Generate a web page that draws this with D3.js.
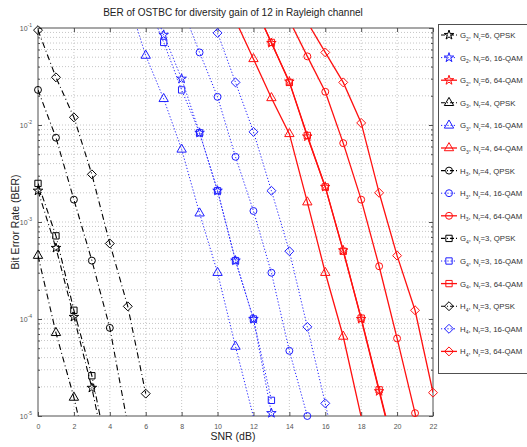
<!DOCTYPE html>
<html>
<head>
<meta charset="utf-8">
<script src="https://cdn.jsdelivr.net/npm/d3@7"></script>
<style>
  body { margin: 0; background: #fff; }
  svg { display: block; font-family: "Liberation Sans", Arial, sans-serif; }
</style>
</head>
<body>
<svg id="chart" width="527" height="447"></svg>
<script>
// axis ticks
const xTicks = [0, 2, 4, 6, 8, 10, 12, 14, 16, 18, 20, 22];
const yTicks = [1e-1, 1e-2, 1e-3, 1e-4, 1e-5];

// QPSK curves
const snrG2Qpsk = [0, 1, 2, 3, 4];
const berG2Qpsk = [2.1e-3, 5.4e-4, 1.05e-4, 1.95e-5, 2.5e-6];
const snrG3Qpsk = [0, 1, 2, 3];
const berG3Qpsk = [4.5e-4, 7.2e-5, 1.55e-5, 2.5e-6];
const snrH3Qpsk = [0, 1, 2, 3, 4, 5];
const berH3Qpsk = [2.3e-2, 7.4e-3, 1.7e-3, 4.0e-4, 8.1e-5, 8.1e-6];
const snrG4Qpsk = [0, 1, 2, 3, 4];
const berG4Qpsk = [2.5e-3, 7.2e-4, 1.23e-4, 2.6e-5, 3.2e-6];
const snrH4Qpsk = [0, 1, 2, 3, 4, 5, 6];
const berH4Qpsk = [9.5e-2, 3.1e-2, 1.2e-2, 3.1e-3, 6.0e-4, 1.35e-4, 1.7e-5];

// 16-QAM curves
const snrG2Q16 = [6, 7, 8, 9, 10, 11, 12, 13];
const berG2Q16 = [2.5e-1, 8.5e-2, 3.0e-2, 8.3e-3, 2.1e-3, 4.0e-4, 1.0e-4, 1.07e-5];
const snrG3Q16 = [5, 6, 7, 8, 9, 10, 11, 12];
const berG3Q16 = [2.0e-1, 5.2e-2, 1.86e-2, 5.6e-3, 1.23e-3, 3.0e-4, 5.2e-5, 9.8e-6];
const snrH3Q16 = [8, 9, 10, 11, 12, 13, 14, 15];
const berH3Q16 = [1.66e-1, 5.6e-2, 1.95e-2, 4.7e-3, 1.3e-3, 3.0e-4, 4.7e-5, 1.0e-5];
const snrG4Q16 = [6, 7, 8, 9, 10, 11, 12, 13];
const berG4Q16 = [2.0e-1, 7.1e-2, 2.3e-2, 8.3e-3, 2.1e-3, 4.0e-4, 1.0e-4, 1.45e-5];
const snrH4Q16 = [9, 10, 11, 12, 13, 14, 15, 16, 17];
const berH4Q16 = [2.8e-1, 8.9e-2, 2.75e-2, 8.5e-3, 2.1e-3, 5.0e-4, 8.3e-5, 1.35e-5, 2.0e-6];

// 64-QAM curves
const snrG2Q64 = [12, 13, 14, 15, 16, 17, 18, 19, 20];
const berG2Q64 = [1.8e-1, 7.0e-2, 2.8e-2, 7.6e-3, 2.3e-3, 5.1e-4, 1.0e-4, 1.8e-5, 3.2e-6];
const snrG3Q64 = [11, 12, 13, 14, 15, 16, 17, 18];
const berG3Q64 = [1.2e-1, 4.8e-2, 1.9e-2, 8.1e-3, 1.6e-3, 3.0e-4, 6.6e-5, 9.8e-6];
const snrH3Q64 = [14, 15, 16, 17, 18, 19, 20, 21, 22];
const berH3Q64 = [1.2e-1, 5.1e-2, 2.2e-2, 6.5e-3, 1.7e-3, 3.5e-4, 6.3e-5, 1.07e-5, 1.6e-6];
const snrG4Q64 = [12, 13, 14, 15, 16, 17, 18, 19, 20];
const berG4Q64 = [1.78e-1, 7.1e-2, 2.75e-2, 7.8e-3, 2.3e-3, 5.0e-4, 1.02e-4, 1.86e-5, 3.4e-6];
const snrH4Q64 = [15, 16, 17, 18, 19, 20, 21, 22];
const berH4Q64 = [1.15e-1, 5.6e-2, 2.75e-2, 1.05e-2, 2.0e-3, 4.5e-4, 1.23e-4, 1.74e-5];

// legend texts: code letter, code index, receive antennas, modulation
const codeNames = ["G", "G", "G", "G", "G", "G", "H", "H", "H", "G", "G", "G", "H", "H", "H"];
const codeIdx = ["2", "2", "2", "3", "3", "3", "3", "3", "3", "4", "4", "4", "4", "4", "4"];
const rxAnt = ["6", "6", "6", "4", "4", "4", "4", "4", "4", "3", "3", "3", "3", "3", "3"];
const modNames = ["QPSK", "16-QAM", "64-QAM", "QPSK", "16-QAM", "64-QAM", "QPSK", "16-QAM", "64-QAM",
                  "QPSK", "16-QAM", "64-QAM", "QPSK", "16-QAM", "64-QAM"];

const snrList = [snrG2Qpsk, snrG2Q16, snrG2Q64, snrG3Qpsk, snrG3Q16, snrG3Q64, snrH3Qpsk, snrH3Q16, snrH3Q64,
                 snrG4Qpsk, snrG4Q16, snrG4Q64, snrH4Qpsk, snrH4Q16, snrH4Q64];
const berList = [berG2Qpsk, berG2Q16, berG2Q64, berG3Qpsk, berG3Q16, berG3Q64, berH3Qpsk, berH3Q16, berH3Q64,
                 berG4Qpsk, berG4Q16, berG4Q64, berH4Qpsk, berH4Q16, berH4Q64];

// matlab-like wide diamond
const symbolWideDiamond = {
  draw(ctx, size) {
    const r = Math.sqrt(size / 2);
    ctx.moveTo(0, -r); ctx.lineTo(r, 0); ctx.lineTo(0, r); ctx.lineTo(-r, 0); ctx.closePath();
  }
};

// styles per modulation and per code
const modStyle = {
  "QPSK":   {color: "#000000", dash: "6,3,1,3", width: 1.1},
  "16-QAM": {color: "#1f1fff", dash: "1.2,2", width: 1},
  "64-QAM": {color: "#ff1010", dash: null, width: 1.3}
};
const codeSymbol = {"G2": d3.symbolStar, "G3": d3.symbolTriangle, "H3": d3.symbolCircle,
                    "G4": d3.symbolSquare, "H4": symbolWideDiamond};
const symSize = {"G2": 28, "G3": 38, "H3": 38, "G4": 40, "H4": 40};

const series = modNames.map((m, i) => ({
  code: codeNames[i] + codeIdx[i],
  mod: m,
  pts: snrList[i].map((s, j) => ({snr: s, ber: berList[i][j]}))
}));

const svg = d3.select("#chart");
const pL = 38, pR = 433, pT = 28, pB = 416;

const x = d3.scaleLinear().domain([0, 22]).range([pL, pR]);
const y = d3.scaleLog().domain([1e-1, 1e-5]).range([pT, pB]);

// minor log ticks
const minorTicks = [];
[-5, -4, -3, -2].forEach(e => {
  for (let m = 1; m <= 9; m++) {
    const v = m * Math.pow(10, e);
    if (v >= 1e-5 && v <= 1e-1) minorTicks.push(v);
  }
});

// grid
const grid = svg.append("g").attr("stroke", "#b8b8b8").attr("stroke-width", 0.8)
  .attr("stroke-dasharray", "1,2");
grid.selectAll("line.v").data(xTicks.slice(1, -1)).enter().append("line")
  .attr("x1", d => x(d)).attr("x2", d => x(d)).attr("y1", pT).attr("y2", pB);
grid.selectAll("line.h").data(minorTicks.filter(v => v < 0.099 && v > 1.01e-5)).enter().append("line")
  .attr("x1", pL).attr("x2", pR).attr("y1", d => y(d)).attr("y2", d => y(d));

// axes with inward ticks
const axisColor = "#505050";
const gx = svg.append("g").attr("transform", `translate(0,${pB})`)
  .call(d3.axisBottom(x).tickValues(xTicks).tickSizeInner(-4).tickSizeOuter(0).tickPadding(8));
const gxt = svg.append("g").attr("transform", `translate(0,${pT})`)
  .call(d3.axisTop(x).tickValues(xTicks).tickSizeInner(-4).tickSizeOuter(0).tickFormat(""));
const gy = svg.append("g").attr("transform", `translate(${pL},0)`)
  .call(d3.axisLeft(y).tickValues(yTicks).tickSizeInner(-4).tickSizeOuter(0).tickPadding(6).tickFormat(""));
const gyr = svg.append("g").attr("transform", `translate(${pR},0)`)
  .call(d3.axisRight(y).tickValues(yTicks).tickSizeInner(-4).tickSizeOuter(0).tickFormat(""));
const gym = svg.append("g").attr("transform", `translate(${pL},0)`)
  .call(d3.axisLeft(y).tickValues(minorTicks).tickSizeInner(-2).tickSizeOuter(0).tickFormat(""));
const gymr = svg.append("g").attr("transform", `translate(${pR},0)`)
  .call(d3.axisRight(y).tickValues(minorTicks).tickSizeInner(-2).tickSizeOuter(0).tickFormat(""));

[gx, gxt, gy, gyr, gym, gymr].forEach(g => {
  g.select(".domain").remove();
  g.selectAll(".tick line").attr("stroke", axisColor);
});
gx.selectAll(".tick text").attr("font-size", 7).attr("fill", "#555");

// y tick labels 10^k
gy.selectAll(".tick text").attr("font-size", 7).attr("fill", "#555")
  .each(function(d) {
    const t = d3.select(this);
    t.append("tspan").text("10");
    t.append("tspan").attr("dy", -4).attr("font-size", 5).text(Math.round(Math.log10(d)));
  });

svg.append("rect").attr("x", pL).attr("y", pT).attr("width", pR - pL).attr("height", pB - pT)
  .attr("fill", "none").attr("stroke", axisColor).attr("stroke-width", 1);

// curves
svg.append("clipPath").attr("id", "plotClip").append("rect")
  .attr("x", pL).attr("y", pT).attr("width", pR - pL).attr("height", pB - pT);

const line = d3.line().x(d => x(d.snr)).y(d => y(d.ber));
const plot = svg.append("g");

series.forEach(s => {
  const st = modStyle[s.mod];
  plot.append("path").datum(s.pts)
    .attr("clip-path", "url(#plotClip)")
    .attr("fill", "none").attr("stroke", st.color).attr("stroke-width", st.width)
    .attr("stroke-dasharray", st.dash).attr("d", line);
  plot.selectAll(null).data(s.pts.filter(p => p.ber >= 1e-5 && p.ber <= 1e-1)).enter()
    .append("path")
    .attr("transform", p => `translate(${x(p.snr)},${y(p.ber)})`)
    .attr("d", d3.symbol().type(codeSymbol[s.code]).size(symSize[s.code]))
    .attr("fill", "none").attr("stroke", st.color).attr("stroke-width", 1);
});

// title and labels
svg.append("text").attr("x", 233).attr("y", 16).attr("text-anchor", "middle")
  .attr("font-size", 10).attr("fill", "#222")
  .text("BER of OSTBC for diversity gain of 12 in Rayleigh channel");
svg.append("text").attr("x", 233).attr("y", 440).attr("text-anchor", "middle")
  .attr("font-size", 10.5).attr("fill", "#222").text("SNR (dB)");
svg.append("text").attr("transform", "translate(19,222) rotate(-90)").attr("text-anchor", "middle")
  .attr("font-size", 10.5).attr("fill", "#222").text("Bit Error Rate (BER)");

// legend
const leg = svg.append("g");
leg.append("rect").attr("x", 438.5).attr("y", 24.5).attr("width", 120).attr("height", 349)
  .attr("fill", "#fff").attr("stroke", axisColor).attr("stroke-width", 1);
series.forEach((s, i) => {
  const st = modStyle[s.mod];
  const cy = 35 + i * 22.6;
  leg.append("line").attr("x1", 441).attr("x2", 457).attr("y1", cy).attr("y2", cy)
    .attr("stroke", st.color).attr("stroke-width", st.width)
    .attr("stroke-dasharray", s.mod === "QPSK" ? "4,2,1,2" : st.dash);
  leg.append("path").attr("transform", `translate(449,${cy})`)
    .attr("d", d3.symbol().type(codeSymbol[s.code]).size(symSize[s.code]))
    .attr("fill", "none").attr("stroke", st.color).attr("stroke-width", 1);
  const t = leg.append("text").attr("x", 460).attr("y", cy + 3).attr("font-size", 7.8).attr("fill", "#333");
  t.append("tspan").text(codeNames[i]);
  t.append("tspan").attr("dy", 2.5).attr("font-size", 5).text(codeIdx[i]);
  t.append("tspan").attr("dy", -2.5).text(", N");
  t.append("tspan").attr("dy", 2.5).attr("font-size", 5).text("r");
  t.append("tspan").attr("dy", -2.5).text("=" + rxAnt[i] + ", " + modNames[i]);
});
</script>
</body>
</html>
